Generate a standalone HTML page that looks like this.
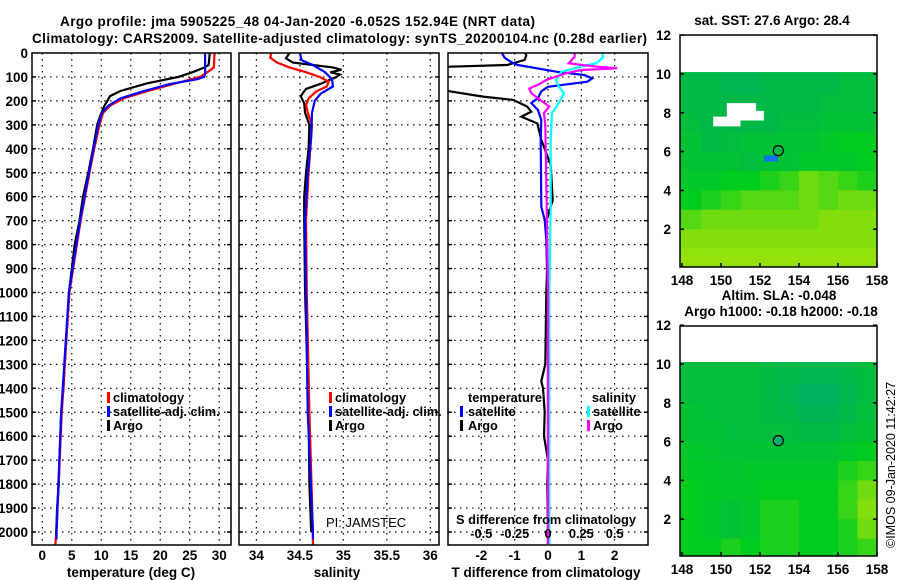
<!DOCTYPE html>
<html><head><meta charset="utf-8"><style>
html,body{margin:0;padding:0;background:#fff}
svg{display:block;font-family:"Liberation Sans",sans-serif}
.b{font-weight:bold;font-size:13.5px}
.l{font-weight:bold;font-size:12.8px}
</style></head><body>
<svg id="c" width="900" height="580" viewBox="0 0 900 580" xmlns="http://www.w3.org/2000/svg">
<text class="b" x="60" y="26" textLength="475">Argo profile: jma 5905225_48 04-Jan-2020 -6.052S 152.94E (NRT data)</text>
<text class="b" x="32" y="43" textLength="615">Climatology: CARS2009. Satellite-adjusted climatology: synTS_20200104.nc (0.28d earlier)</text>
<text class="b" x="772" y="25" text-anchor="middle">sat. SST: 27.6 Argo: 28.4</text>
<text class="b" x="779" y="300" text-anchor="middle">Altim. SLA: -0.048</text>
<text class="b" x="781" y="316" text-anchor="middle">Argo h1000: -0.18 h2000: -0.18</text>
<text x="895" y="548" font-size="12.5" transform="rotate(-90 895 548)">©IMOS 09-Jan-2020 11:42:27</text>
<text x="326" y="527" font-size="13">PI: JAMSTEC</text>
</svg>
<script>
// ---------- data ----------
const depthTicks=[0,100,200,300,400,500,600,700,800,900,1000,1100,1200,1300,1400,1500,1600,1700,1800,1900,2000];
const tempTicks=[0,5,10,15,20,25,30];
const salTicks=[34,34.5,35,35.5,36];
const salTickLabels=["34","34.5","35","35.5","36"];
const tdiffTicks=[-2,-1,0,1,2];
const sdiffTicks=[-0.5,-0.25,0,0.25,0.5];
const sdiffLabels=["-0.5","-0.25","0","0.25","0.5"];

const argoTDepth=[0,50,60,80,100,127,159,180,222,264,300,400,500,600,700,800,900,1000,1100,1200,1300,1400,1500,1600,1700,1800,1900,2000,2030];
const argoT=[28.4,28.2,27.5,25.5,23,17.7,13.2,11.5,10.5,9.8,9.3,8.6,7.8,6.9,6.3,5.5,5.0,4.5,4.3,4.0,3.8,3.6,3.2,3.05,2.9,2.8,2.5,2.35,2.3];
const climTDepth=[0,60,80,100,130,160,190,220,250,300,400,500,700,1000,1500,2000,2055];
const climT=[29.2,29.1,28,26.7,22.2,17.7,13.7,11.5,10.3,9.7,8.8,8.0,6.5,4.6,3.3,2.4,2.2];
const satTDepth=[0,90,100,110,130,160,190,220,250,300,400,500,700,1000,1500,2000,2030];
const satT=[27.6,27.6,27.4,26.2,21.6,17.1,13.2,11.2,10.1,9.5,8.7,7.9,6.4,4.5,3.2,2.4,2.4];

const argoSDepth=[0,22,40,50,60,70,80,90,100,130,150,180,210,250,280,300,400,500,600,700,1000,1500,1800,2000];
const argoS=[34.38,34.34,34.42,34.65,34.88,34.98,34.85,34.96,34.92,34.73,34.57,34.51,34.55,34.56,34.59,34.61,34.6,34.57,34.55,34.55,34.56,34.6,34.61,34.63];
const climSDepth=[0,20,40,60,80,100,120,140,160,190,220,260,300,400,500,700,1000,1500,2000,2055];
const climS=[34.17,34.16,34.24,34.38,34.57,34.73,34.83,34.81,34.69,34.6,34.57,34.6,34.64,34.62,34.6,34.57,34.58,34.61,34.65,34.65];
const satSDepth=[0,30,50,80,110,140,170,200,250,350,500,700,1000,1500,2000,2030];
const satS=[34.5,34.52,34.65,34.79,34.87,34.88,34.74,34.67,34.64,34.63,34.59,34.56,34.57,34.59,34.65,34.65];

const argoDTDepth=[0,10,29,50,57,62,150,160,182,196,224,245,266,294,363,468,614,697,920,1003,1300,1370,1400,1500,1600,1700,1800,2000,2050];
const argoDT=[-0.68,-0.65,-0.7,-1.23,-2.95,-3.2,-3.2,-2.95,-1.95,-1.04,-0.62,-0.5,-0.8,-0.32,-0.2,0.08,0.14,-0.04,-0.03,-0.05,-0.08,-0.2,-0.15,-0.1,-0.12,0,-0.02,0,0];
const satDTDepth=[0,20,42,50,78,92,106,120,141,160,188,209,238,280,363,642,697,780,1000,2050];
const satDT=[-1.38,-1.3,-1.05,-0.9,0.25,1.08,1.33,1.18,0,-0.2,-0.3,-0.5,-0.3,-0.2,-0.22,-0.2,-0.1,-0.05,0,0];
const satDSDepth=[0,20,43,50,64,78,113,140,168,209,251,363,642,1000,2050];
const satDS=[0.41,0.41,0.36,0.3,0.2,0.1,0.06,0.08,0.12,0.08,0.03,0.02,0.02,0.01,0.01];
const argoDSDepth=[0,15,43,57,64,71,85,113,130,148,168,224,250,300,642,1000,2050];
const argoDS=[0.2,0.2,0.155,0.37,0.52,0.25,0.13,-0.015,-0.065,-0.14,-0.125,0.01,-0.03,-0.02,-0.01,0,0];

const mapLonTicks=[148,150,152,154,156,158];
const mapLatTicks=[2,4,6,8,10,12];
const sstGrid=[
[0.35,0.35,0.3,0.3,0.35,0.35,0.35,0.35,0.4,0.4],
[0.35,0.35,0.35,0.35,0.35,0.35,0.35,0.4,0.4,0.4],
[0.4,0.35,0.35,0.35,0.35,0.4,0.4,0.45,0.45,0.45],
[0.45,0.35,0.4,0.45,0.45,0.45,0.45,0.5,0.55,0.55],
[0.45,0.45,0.45,0.4,0.45,0.45,0.5,0.5,0.5,0.55],
[0.5,0.5,0.55,0.55,0.6,0.65,0.75,0.7,0.65,0.6],
[0.55,0.6,0.65,0.7,0.7,0.7,0.75,0.7,0.75,0.75],
[0.7,0.75,0.75,0.75,0.75,0.75,0.75,0.8,0.8,0.8],
[0.8,0.8,0.8,0.8,0.8,0.8,0.8,0.8,0.8,0.8],
[0.85,0.85,0.85,0.85,0.85,0.85,0.85,0.85,0.85,0.85]];
const slaGrid=[
[0.4,0.4,0.4,0.4,0.38,0.35,0.3,0.3,0.35,0.4],
[0.4,0.4,0.4,0.4,0.38,0.3,0.2,0.2,0.3,0.4],
[0.45,0.42,0.4,0.4,0.38,0.35,0.25,0.25,0.35,0.42],
[0.45,0.45,0.42,0.4,0.4,0.4,0.35,0.35,0.4,0.45],
[0.5,0.48,0.45,0.45,0.45,0.45,0.45,0.45,0.5,0.55],
[0.52,0.5,0.48,0.5,0.5,0.5,0.5,0.5,0.6,0.65],
[0.55,0.52,0.5,0.5,0.55,0.55,0.55,0.55,0.65,0.75],
[0.55,0.5,0.45,0.5,0.6,0.6,0.55,0.55,0.65,0.8],
[0.55,0.5,0.45,0.5,0.6,0.6,0.55,0.55,0.6,0.75],
[0.55,0.55,0.6,0.55,0.6,0.6,0.55,0.55,0.6,0.65]];
const argoLon=152.94, argoLat=6.05;

// ---------- helpers ----------
const svg=document.getElementById('c');
const NS='http://www.w3.org/2000/svg';
function mk(tag,attrs,parent){const e=document.createElementNS(NS,tag);for(const k in attrs)e.setAttribute(k,attrs[k]);(parent||svg).appendChild(e);return e;}
const yTop=53, yBot=545;
const yD=d=>yTop+d*0.2395;
const panels=[
 {x0:32,x1:231,vmin:-1.75,vmax:32,name:'temperature-panel'},
 {x0:239,x1:439,vmin:33.8,vmax:36.1,name:'salinity-panel'},
 {x0:448,x1:648,vmin:-3,vmax:3,name:'difference-panel'}];
const xs=(p,v)=>p.x0+(v-p.vmin)/(p.vmax-p.vmin)*(p.x1-p.x0);
const sdx=v=>xs(panels[2],v*4);

const defs=mk('defs',{});
panels.forEach((p,i)=>{const cp=mk('clipPath',{id:'clip'+i},defs);mk('rect',{x:p.x0,y:yTop,width:p.x1-p.x0,height:yBot-yTop},cp);});

function grid(p,xvals,xf){
  const g=mk('g',{});
  
  
  depthTicks.forEach(d=>{if(d===0)return;const y=yD(d);
    mk('line',{x1:p.x0,x2:p.x1,y1:y,y2:y,stroke:'#000','stroke-width':1.2,'stroke-dasharray':'1.5,4.5'},g);
    mk('line',{x1:p.x0,x2:p.x0+4,y1:y,y2:y,stroke:'#000','stroke-width':1.5},g);
    mk('line',{x1:p.x1-4,x2:p.x1,y1:y,y2:y,stroke:'#000','stroke-width':1.5},g);});
  xvals.forEach(v=>{const x=xf(v);
    mk('line',{x1:x,x2:x,y1:yTop,y2:yBot,stroke:'#000','stroke-width':1.2,'stroke-dasharray':'1.5,4.5'},g);});
}
function line(p,i,depths,vals,color,name,xf){
  const pts=depths.map((d,k)=>(xf?xf(vals[k]):xs(p,vals[k])).toFixed(1)+','+yD(d).toFixed(1)).join(' ');
  const e=mk('polyline',{points:pts,fill:'none',stroke:color,'stroke-width':2.2,'clip-path':'url(#clip'+i+')'});
  
  
}
function box(p){const e=mk('rect',{x:p.x0,y:yTop,width:p.x1-p.x0,height:yBot-yTop,fill:'none',stroke:'#000','stroke-width':1.5});
  
  }
function txt(x,y,s,anchor,name,cls){const e=mk('text',{x:x,y:y,'text-anchor':anchor||'start','class':cls||'b'});e.textContent=s;
  
  return e;}
function legendBar(x,y,color,name){const e=mk('rect',{x:x,y:y-10,width:3,height:11,fill:color});
  
  }

const P0=panels[0],P1=panels[1],P2=panels[2];
grid(P0,tempTicks,v=>xs(P0,v));
line(P0,0,argoTDepth,argoT,'#000','argo-temperature-line');
line(P0,0,climTDepth,climT,'#f00','climatology-temperature-line');
line(P0,0,satTDepth,satT,'#00f','satellite-temperature-line');
box(P0);
depthTicks.forEach(d=>txt(28,yD(d)+5,String(d),'end','depth-tick-'+d));
tempTicks.forEach(v=>txt(xs(P0,v),560,String(v),'middle','temp-tick-'+v));
txt(131,577,'temperature (deg C)','middle','temperature-axis-title');

grid(P1,salTicks,v=>xs(P1,v));
line(P1,1,argoSDepth,argoS,'#000','argo-salinity-line');
line(P1,1,climSDepth,climS,'#f00','climatology-salinity-line');
line(P1,1,satSDepth,satS,'#00f','satellite-salinity-line');
box(P1);
salTicks.forEach((v,k)=>txt(xs(P1,v),560,salTickLabels[k],'middle','salinity-tick-'+k));
txt(337,577,'salinity','middle','salinity-axis-title');

grid(P2,tdiffTicks,v=>xs(P2,v));
line(P2,2,argoDTDepth,argoDT,'#000','argo-t-diff-line');
line(P2,2,satDTDepth,satDT,'#00f','satellite-t-diff-line');
line(P2,2,satDSDepth,satDS,'#0ff','satellite-s-diff-line',sdx);
line(P2,2,argoDSDepth,argoDS,'#f0f','argo-s-diff-line',sdx);
box(P2);
tdiffTicks.forEach(v=>txt(xs(P2,v),560,String(v),'middle','tdiff-tick-'+v));
sdiffTicks.forEach((v,k)=>txt(sdx(v),538,sdiffLabels[k],'middle','sdiff-tick-'+k,'l'));
txt(546,524,'S difference from climatology','middle','s-diff-axis-title','l');
txt(546,577,'T difference from climatology','middle','t-diff-axis-title');

[['#f00','climatology'],['#00f','satellite-adj. clim.'],['#000','Argo']].forEach((l,k)=>{
  legendBar(107,402+k*14,l[0],'temp-legend-swatch-'+k);
  txt(113,402+k*14,l[1],'start','temp-legend-label-'+k,'l');
  legendBar(329,402+k*14,l[0],'sal-legend-swatch-'+k);
  txt(335,402+k*14,l[1],'start','sal-legend-label-'+k,'l');
});
txt(468,402,'temperature','start','diff-legend-temperature-heading','l');
txt(636,402,'salinity','end','diff-legend-salinity-heading','l');
[['#00f','satellite'],['#000','Argo']].forEach((l,k)=>{legendBar(460,416+k*14,l[0],'diff-legend-t-swatch-'+k);txt(468,416+k*14,l[1],'start','diff-legend-t-label-'+k,'l');});
[['#0ff','satellite'],['#f0f','Argo']].forEach((l,k)=>{legendBar(587,416+k*14,l[0],'diff-legend-s-swatch-'+k);txt(593,416+k*14,l[1],'start','diff-legend-s-label-'+k,'l');});

// maps
const stops=[[0,[0,168,120]],[0.35,[0,184,72]],[0.55,[0,204,32]],[0.75,[112,220,16]],[1,[200,232,0]]];
function cmap(v){for(let k=1;k<stops.length;k++){if(v<=stops[k][0]){const a=stops[k-1],b=stops[k],t=(v-a[0])/(b[0]-a[0]);
  return 'rgb('+a[1].map((c,j)=>Math.round(c+(b[1][j]-c)*t)).join(',')+')';}}return 'rgb(200,232,0)';}
const maps=[{x0:680,x1:877,top:35,bot:267,lat0:268,grid:sstGrid,name:'sst-map'},
            {x0:680,x1:877,top:326,bot:556,lat0:558,grid:slaGrid,name:'sla-map'}];
maps.forEach((m,mi)=>{
  const lx=lon=>682+(lon-148)*19.5, ly=lat=>m.lat0-lat*19.4;
  const cp=mk('clipPath',{id:'mclip'+mi},defs);mk('rect',{x:m.x0,y:m.top,width:m.x1-m.x0,height:m.bot-m.top},cp);
  const g=mk('g',{'clip-path':'url(#mclip'+mi+')'});
  
  
  m.grid.forEach((row,r)=>row.forEach((v,c)=>{
    const lat=9-r, lon=148+c;
    const latTop=r===0?10.1:lat+1, latBot=r===9?-0.5:lat;
    const xL=c===0?m.x0:lx(lon), xR=c===9?m.x1:lx(lon+1)+0.6;
    const e=mk('rect',{x:xL,y:ly(latTop),width:xR-xL,height:ly(latBot)-ly(latTop)+0.6,fill:cmap(v)},g);
    
    
  }));
  if(mi===0){const w=mk('path',{d:'M'+lx(150.3)+' '+ly(8.5)+'H'+lx(151.8)+'V'+ly(8.1)+'H'+lx(152.2)+'V'+ly(7.6)+'H'+lx(151)+'V'+ly(7.3)+'H'+lx(149.6)+'V'+ly(7.8)+'H'+lx(150.3)+'Z',fill:'#fff'},g);
    
    
    const bl=mk('rect',{x:lx(152.2),y:ly(5.8),width:14,height:6,fill:'#1070f0'},g);
    
    }
  const c=mk('circle',{cx:lx(argoLon),cy:ly(argoLat),r:5,fill:mi===0?'#00b848':'#00b070',stroke:'#000','stroke-width':1.2});
  
  
  const fr=mk('rect',{x:m.x0,y:m.top,width:m.x1-m.x0,height:m.bot-m.top,fill:'none',stroke:'#000','stroke-width':1.5});
  
  
  mapLonTicks.forEach(lon=>{mk('line',{x1:lx(lon),x2:lx(lon),y1:m.bot,y2:m.bot-4,stroke:'#000','stroke-width':1.5});
    txt(lx(lon),m.bot+18,String(lon),'middle',m.name+'-lon-tick-'+lon);});
  mapLatTicks.forEach(lat=>{mk('line',{x1:m.x0,x2:m.x0+4,y1:ly(lat),y2:ly(lat),stroke:'#000','stroke-width':1.5});
    mk('line',{x1:m.x1,x2:m.x1-4,y1:ly(lat),y2:ly(lat),stroke:'#000','stroke-width':1.5});
    txt(671,ly(lat)+5,String(lat),'end',m.name+'-lat-tick-'+lat);});
});
</script>
</body></html>
